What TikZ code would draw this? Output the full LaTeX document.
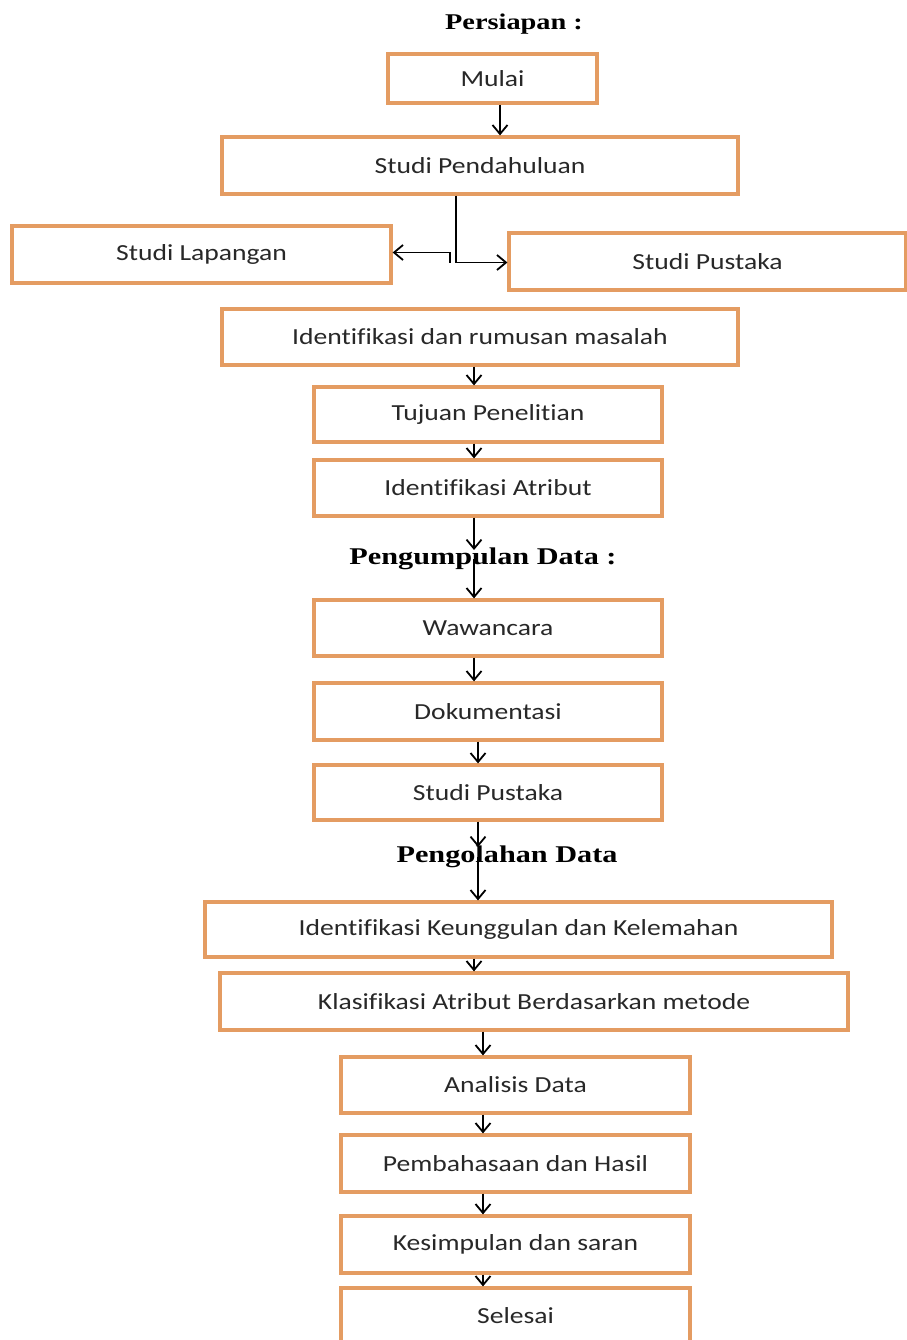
\documentclass[tikz,border=0pt]{standalone}
\usepackage{fontspec}
\usepackage{tikz}
\usetikzlibrary{arrows.meta}
\newfontfamily\boxfont[FakeStretch=1.2,Ligatures=NoCommon]{Carlito}
\newfontfamily\headfont[FakeStretch=1.26]{Liberation Serif}
\definecolor{boxline}{RGB}{228,156,98}
\definecolor{boxtext}{RGB}{40,40,40}

\begin{document}
\begin{tikzpicture}[x=1pt,y=-1pt,
  stepbox/.style={draw=boxline,line width=3.2pt,fill=white,rectangle,inner sep=0pt,
    text=boxtext,font=\boxfont\fontsize{23}{26}\selectfont},
  heading/.style={inner sep=0pt,font=\headfont\bfseries\fontsize{24}{28}\selectfont},
  arr/.style={draw=black,line width=1.8pt,-{Straight Barb[length=9pt,width=15pt]}}]
\useasboundingbox (0,0) rectangle (906,1340);
\fill[white] (0,0) rectangle (906,1340);
% persiapan
\node[heading,font=\headfont\bfseries\fontsize{22.5}{26}\selectfont] (h1) at (514,24) {Persiapan :};
\node[stepbox,minimum width=209pt,minimum height=49pt] (mulai) at (492.5,78.5) {Mulai};
\node[stepbox,minimum width=516pt,minimum height=57pt] (pendahuluan) at (480,165.5) {Studi Pendahuluan};
\node[stepbox,minimum width=379pt,minimum height=57pt] (lapangan) at (201.5,254.5) {Studi Lapangan};
\node[stepbox,minimum width=397pt,minimum height=57pt] (pustakaA) at (707.5,261.5) {Studi Pustaka};
\node[stepbox,minimum width=516pt,minimum height=56pt] (rumusan) at (480,337) {Identifikasi dan rumusan masalah};
\node[stepbox,minimum width=348pt,minimum height=55pt] (tujuan) at (488,414.5) {Tujuan Penelitian};
\node[stepbox,minimum width=348pt,minimum height=56pt] (atribut) at (488,488) {Identifikasi Atribut};
% pengumpulan data
\node[heading] (h2) at (483,559) {Pengumpulan Data :};
\node[stepbox,minimum width=348pt,minimum height=56pt] (wawancara) at (488,628) {Wawancara};
\node[stepbox,minimum width=348pt,minimum height=57pt] (dokumentasi) at (488,711.5) {Dokumentasi};
\node[stepbox,minimum width=348pt,minimum height=55pt] (pustakaB) at (488,792.5) {Studi Pustaka};
% pengolahan data
\node[heading] (h3) at (507,857) {Pengolahan Data};
\node[stepbox,minimum width=627pt,minimum height=55pt] (keunggulan) at (518.5,929.5) {Identifikasi Keunggulan dan Kelemahan};
\node[stepbox,minimum width=628pt,minimum height=57pt] (klasifikasi) at (534,1001.5) {Klasifikasi Atribut Berdasarkan metode};
\node[stepbox,minimum width=349pt,minimum height=56pt] (analisis) at (515.5,1085) {Analisis Data};
\node[stepbox,minimum width=349pt,minimum height=57pt] (pembahasan) at (515.5,1163.5) {Pembahasaan dan Hasil};
\node[stepbox,minimum width=349pt,minimum height=57pt] (kesimpulan) at (515.5,1244.5) {Kesimpulan dan saran};
\node[stepbox,minimum width=349pt,minimum height=56pt] (selesai) at (515.5,1316) {Selesai};
\coordinate (split) at (450,262.5);
% arrows
\draw[arr] (mulai.south -| 500,0) -- (pendahuluan.north -| 500,0);
\draw[arr] (pendahuluan.south -| 456,0) |- (pustakaA.west |- split);
\draw[arr] (split) -- ++(0,-10) -- (lapangan.east |- 0,252.5);
\draw[arr] (rumusan.south -| 474,0) -- (tujuan.north -| 474,0);
\draw[arr] (tujuan.south -| 474,0) -- (atribut.north -| 474,0);
\draw[arr] (atribut.south -| 474,0) -- (474,550);
\draw[arr] (h2.center -| 474,0) -- (wawancara.north -| 474,0);
\draw[arr] (wawancara.south -| 474,0) -- (dokumentasi.north -| 474,0);
\draw[arr] (dokumentasi.south -| 478,0) -- (pustakaB.north -| 478,0);
\draw[arr] (pustakaB.south -| 478,0) -- (478,847);
\draw[arr] (h3.center -| 478,0) -- (keunggulan.north -| 478,0);
\draw[arr] (keunggulan.south -| 474,0) -- (klasifikasi.north -| 474,0);
\draw[arr] (klasifikasi.south -| 483,0) -- (analisis.north -| 483,0);
\draw[arr] (analisis.south -| 483,0) -- (pembahasan.north -| 483,0);
\draw[arr] (pembahasan.south -| 483,0) -- (kesimpulan.north -| 483,0);
\draw[arr] (kesimpulan.south -| 483,0) -- (selesai.north -| 483,0);
\end{tikzpicture}
\end{document}
